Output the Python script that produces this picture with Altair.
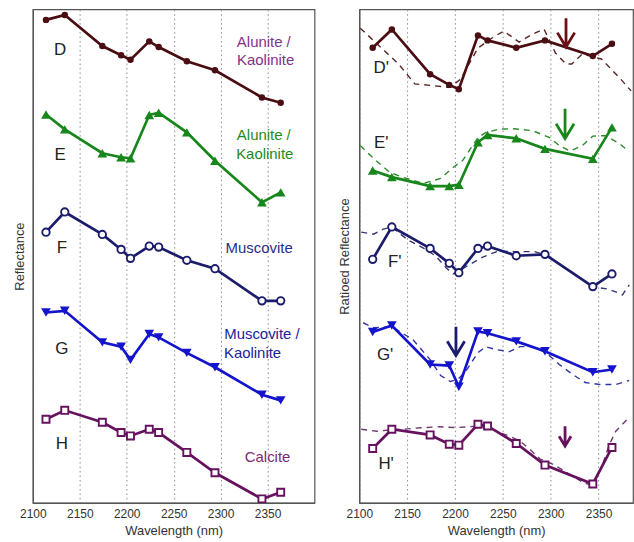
import altair as alt
import pandas as pd

FONT = "Liberation Sans"

# band centres (nm)
wl = [2114, 2134, 2174, 2194, 2204, 2224, 2234, 2264, 2294, 2344, 2364]

# left panel: offset reflectance (arbitrary units)
D = [485.3, 490.3, 459, 449.7, 445.3, 463.7, 458, 443.7, 434.7, 407.3, 402]
E = [390.3, 375.3, 351.3, 347.3, 346.3, 389.7, 392, 372.3, 343.7, 302, 312]
F = [272, 292.3, 269.7, 254.7, 245.7, 258, 257, 243.7, 235.3, 203, 203]
G = [191.3, 193, 161.3, 157, 143.7, 169.7, 166.3, 150.7, 136.3, 108.7, 103]
H = [84, 93, 81, 70.7, 67.3, 74, 70.7, 50.7, 30.3, 4, 10.7]

# right panel: ratioed reflectance (arbitrary units)
Dp = [457.3, 475.7, 430.7, 420, 415.7, 469.7, 464.7, 457.3, 464.7, 449, 461.3]
Ep = [334, 327.3, 318.3, 318.3, 319.7, 362.3, 369.7, 366.3, 355.7, 345.7, 377.3]
Fp = [244.7, 277.3, 255.7, 240.7, 231.3, 255.7, 258, 248.3, 249.7, 217.3, 230]
Gp = [171.7, 178.3, 139, 138, 116.7, 172.3, 170.5, 162.3, 152.3, 131.3, 134]
Hp = [54.7, 74, 68.3, 59, 58, 79, 77.3, 59.7, 38, 19, 55.7]

# library reference spectra (dashed)
Dd_wl = [2101, 2141, 2158, 2179, 2195, 2206, 2224, 2240, 2251, 2267, 2281, 2293, 2305, 2316, 2322, 2333, 2353, 2372, 2384]
Dd = [477, 441, 421, 419, 417.5, 426, 457, 468, 474, 463, 471, 476, 452, 441, 441, 451, 446, 427, 414]
Ed_wl = [2101, 2115, 2132, 2146, 2167, 2185, 2198, 2208, 2224, 2232, 2246, 2260, 2281, 2299, 2309, 2320, 2333, 2344, 2357, 2372, 2382]
Ed = [359, 346, 332, 327, 321, 326, 337, 344, 367, 372, 375.5, 376, 374, 367, 359, 353.5, 359, 368.5, 369, 361, 353]
Fd_wl = [2102, 2115, 2125, 2134, 2151, 2167, 2180, 2191, 2198, 2211, 2229, 2245, 2263, 2283, 2295, 2318, 2344, 2359, 2368, 2375, 2382]
Fd = [272, 270, 275, 277, 264, 256, 248, 236, 230, 237, 247, 253, 252.5, 252.5, 249, 234, 217, 215, 212, 209, 219]
Gd_wl = [2104, 2115, 2134, 2156, 2174, 2185, 2195, 2203, 2211, 2224, 2232, 2243, 2257, 2268, 2281, 2295, 2309, 2323, 2336, 2351, 2368, 2382]
Gd = [181, 176, 177, 164, 144, 128, 122, 124, 132, 151, 157, 154, 152, 157, 157, 151, 139, 129, 121, 119, 119, 123]
Hd_wl = [2102, 2118, 2134, 2146, 2164, 2184, 2201, 2222, 2234, 2243, 2257, 2268, 2278, 2289, 2302, 2316, 2333, 2344, 2354, 2361, 2368, 2382]
Hd = [74, 72, 73.5, 74, 75.5, 76.5, 75.7, 77, 76, 72, 67, 62, 54, 44, 39, 31, 21, 17, 38, 58, 72, 86]

ticks = [2100, 2150, 2200, 2250, 2300, 2350]

col = {"D": "#4a0d12", "E": "#17861b", "F": "#1c1c6c", "G": "#1414cc", "H": "#66125f"}
dcol = {"D": "#5a2424", "E": "#2c8c2c", "F": "#343476", "G": "#3434a6", "H": "#6c3a6a"}

# letter labels
left_letters = ["D", "E", "F", "G", "H"]
left_letter_wl = [2129, 2129, 2131, 2131, 2131]
left_letter_v = [455, 350, 256, 155, 59]
right_letters = ["D'", "E'", "F'", "G'", "H'"]
right_letter_wl = [2123, 2123, 2137, 2127, 2128]
right_letter_v = [437, 362, 242, 149, 39]

# mineral labels
min_text = ["Alunite /", "Kaolinite", "Alunite /", "Kaolinite", "Muscovite",
            "Muscovite /", "Kaolinite", "Calcite"]
min_wl = [2346, 2348, 2346, 2347, 2341, 2344, 2334, 2350]
min_v = [463, 445, 370, 351, 256, 170, 151, 46]
min_col = ["#80338c", "#80338c", "#1f8a22", "#1f8a22", "#2a2a8e", "#22229c", "#22229c", "#7a2a78"]

# absorption arrows
arr_wl = [2316, 2315, 2201, 2315]
arr_v = [472.5, 381, 162.5, 67]
arr_len = [29, 30, 29, 20]
arr_col = ["#6a0f16", "#17861b", "#1c1c6c", "#66125f"]

ARROW = "M0,-1L0,1M-0.6,0L0,1L0.6,0"

def xenc(domain):
    return alt.X("wl:Q", scale=alt.Scale(domain=domain, nice=False, zero=False),
                 axis=alt.Axis(values=ticks, title="Wavelength (nm)", format="d",
                               labelFlush=False, labelOverlap=False))

def yenc(title, pad):
    return alt.Y("v:Q", scale=alt.Scale(domain=[0, 496], nice=False, zero=False),
                 axis=alt.Axis(title=title, labels=False, ticks=False, grid=False,
                               titlePadding=pad))

def series_layers(key, wls, vals, domain, ytitle, pad, shape, size, filled):
    df = pd.DataFrame({"wl": wls, "v": vals})
    base = alt.Chart(df).encode(x=xenc(domain), y=yenc(ytitle, pad))
    line = base.mark_line(color=col[key], strokeWidth=2.7, clip=True)
    if filled:
        pts = base.mark_point(shape=shape, size=size, filled=True, color=col[key], opacity=1, clip=True)
    else:
        pts = base.mark_point(shape=shape, size=size, stroke=col[key], fill="#ffffff",
                              fillOpacity=1, strokeWidth=1.9, opacity=1, clip=True)
    return [line, pts]

shapes = {"D": ("circle", 42, True), "E": ("triangle-up", 95, True),
          "F": ("circle", 55, False), "G": ("triangle-down", 95, True),
          "H": ("square", 50, False)}

LD = [2100, 2400]
RD = [2100, 2386]

left_layers = []
for k, vals in zip("DEFGH", [D, E, F, G, H]):
    s, sz, fl = shapes[k]
    left_layers += series_layers(k, wl, vals, LD, "Reflectance", 6, s, sz, fl)

ll = pd.DataFrame({"wl": left_letter_wl, "v": left_letter_v, "t": left_letters})
left_layers.append(alt.Chart(ll).mark_text(font=FONT, fontSize=17, color="#222222",
                                           align="center", baseline="middle")
                   .encode(x=xenc(LD), y=yenc("Reflectance", 6), text="t:N"))
mn = pd.DataFrame({"wl": min_wl, "v": min_v, "t": min_text, "c": min_col})
left_layers.append(alt.Chart(mn).mark_text(font=FONT, fontSize=15, align="center",
                                           baseline="middle")
                   .encode(x=xenc(LD), y=yenc("Reflectance", 6), text="t:N",
                           color=alt.Color("c:N", scale=None)))

left = alt.layer(*left_layers).properties(width=283, height=496)

right_layers = []
for k, wls, vals in zip("DEFGH", [Dd_wl, Ed_wl, Fd_wl, Gd_wl, Hd_wl], [Dd, Ed, Fd, Gd, Hd]):
    df = pd.DataFrame({"wl": wls, "v": vals})
    right_layers.append(alt.Chart(df).mark_line(color=dcol[k], strokeWidth=1.4,
                                                strokeDash=[6, 5], clip=True)
                        .encode(x=xenc(RD), y=yenc("Ratioed Reflectance", 8)))
for k, vals in zip("DEFGH", [Dp, Ep, Fp, Gp, Hp]):
    s, sz, fl = shapes[k]
    right_layers += series_layers(k, wl, vals, RD, "Ratioed Reflectance", 8, s, sz, fl)

rl = pd.DataFrame({"wl": right_letter_wl, "v": right_letter_v, "t": right_letters})
right_layers.append(alt.Chart(rl).mark_text(font=FONT, fontSize=17, color="#222222",
                                            align="center", baseline="middle")
                    .encode(x=xenc(RD), y=yenc("Ratioed Reflectance", 8), text="t:N"))
ar = pd.DataFrame({"wl": arr_wl, "v": arr_v, "s": [l * l for l in arr_len], "c": arr_col})
right_layers.append(alt.Chart(ar).mark_point(shape=ARROW, filled=False, strokeWidth=2.8,
                                             opacity=1, strokeJoin="miter")
                    .encode(x=xenc(RD), y=yenc("Ratioed Reflectance", 8),
                            size=alt.Size("s:Q", scale=None),
                            color=alt.Color("c:N", scale=None)))

right = alt.layer(*right_layers).properties(width=275, height=496)

chart = (alt.hconcat(left, right, spacing=22)
         .properties(padding={"left": 13, "top": 7, "right": 0, "bottom": 0},
                     background="#ffffff")
         .configure_view(stroke="#555555", strokeWidth=1.2)
         .configure_axis(labelFont=FONT, titleFont=FONT, labelFontSize=12, titleFontSize=13,
                         titleFontWeight="normal", labelColor="#333333", titleColor="#333333",
                         domainColor="#555555", domainWidth=1.2)
         .configure_axisX(grid=True, gridDash=[1.5, 3], gridColor="#8a8a8a", gridWidth=1,
                          ticks=False, labelPadding=6, titlePadding=5))

chart.save("out.html", embed_options={"renderer": "svg", "actions": False})
